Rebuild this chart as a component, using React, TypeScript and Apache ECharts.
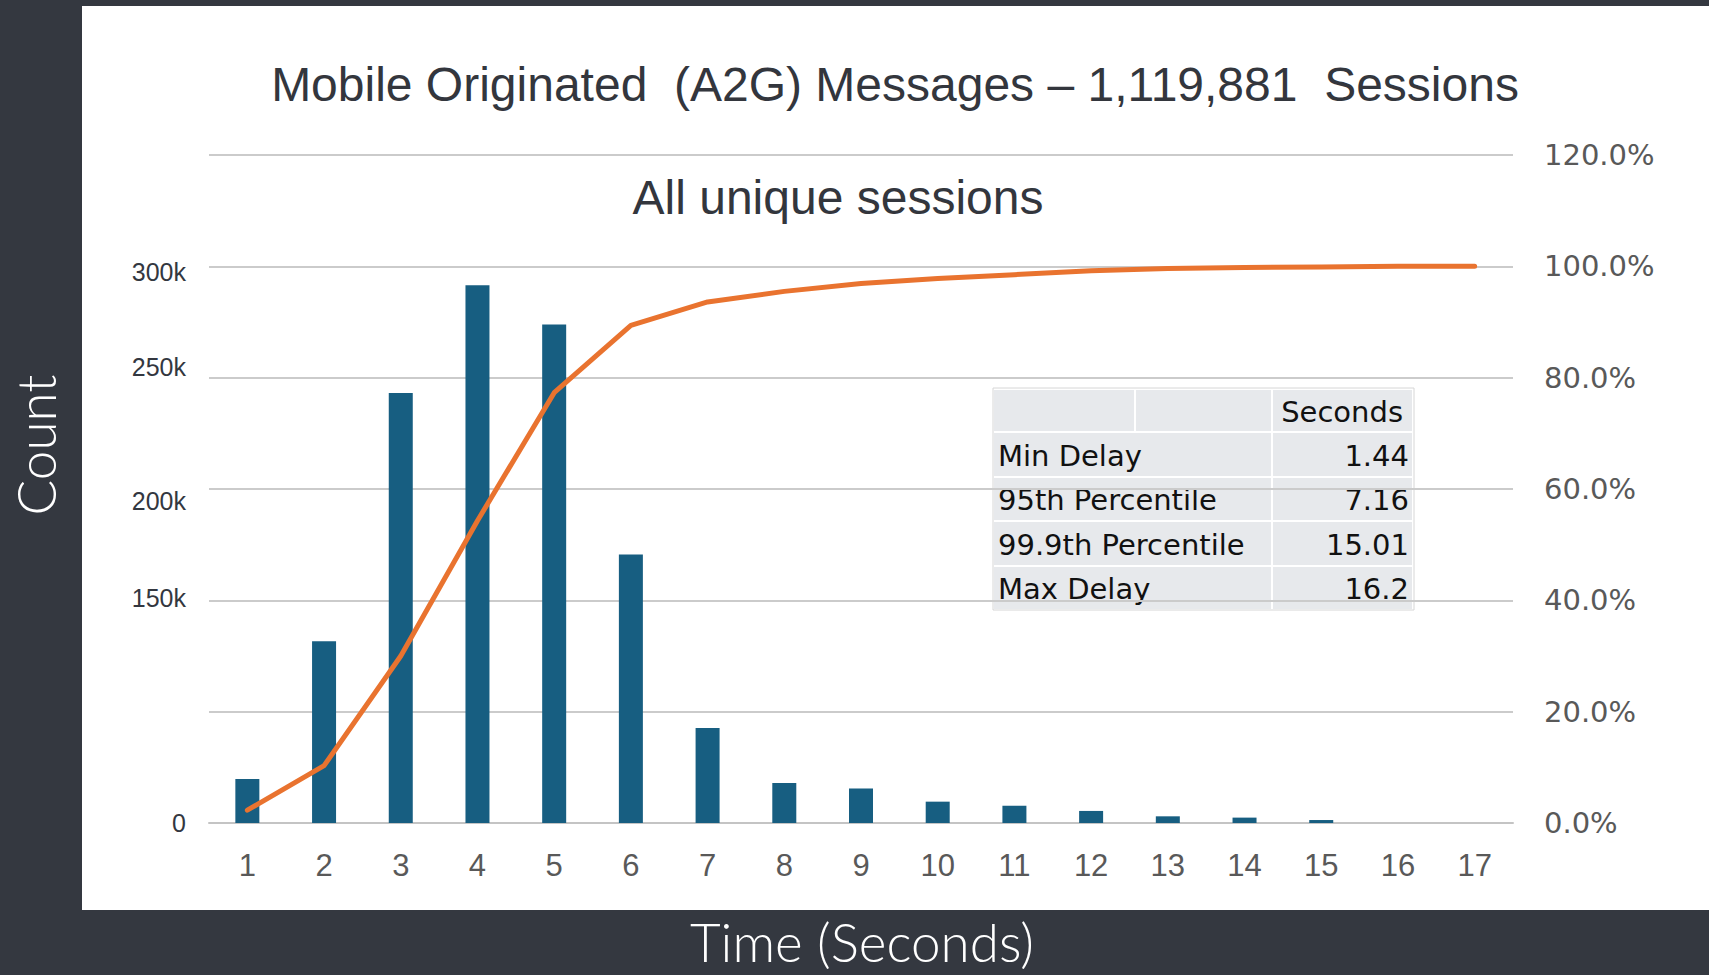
import React, { useEffect, useRef } from "react";
import * as echarts from "echarts";

const categories = ["1", "2", "3", "4", "5", "6", "7", "8", "9", "10", "11", "12", "13", "14", "15", "16", "17"];
const counts = [23700, 98000, 231800, 289800, 268600, 144700, 51200, 21600, 18600, 11500, 9300, 6500, 3600, 2900, 1600, 0, 0];
const cumulativePct = [2.3, 10.3, 30.0, 54.3, 77.3, 89.4, 93.6, 95.5, 96.9, 97.8, 98.5, 99.2, 99.6, 99.8, 99.9, 100, 100];
const leftTickLabels = ["0", "", "150k", "200k", "250k", "300k", ""];
const tableHeader = "Seconds";
const tableLabels = ["Min Delay", "95th Percentile", "99.9th Percentile", "Max Delay"];
const tableValues = ["1.44", "7.16", "15.01", "16.2"];
const mainTitle = "Mobile Originated  (A2G) Messages \u2013 1,119,881  Sessions";
const subTitle = "All unique sessions";
const yTitle = "Count";
const xTitle = "Time (Seconds)";

export default function App() {
  const ref = useRef<HTMLDivElement>(null);
  useEffect(() => {
    if (!ref.current) return;
    const chart = echarts.init(ref.current, null, { renderer: "svg" });

    // vertical nudges of the left labels (px, + = down), as they sit in the original
    const nudge = [0, 0, -2, 12, -11, 6, 0];
    const baseLbl = { color: "#333740", fontSize: 25, fontFamily: "'Liberation Sans'" };
    const rich: any = {};
    nudge.forEach((n, i) => {
      rich["n" + i] = { ...baseLbl, padding: n >= 0 ? [2 * n, 0, 0, 0] : [0, 0, -2 * n, 0] };
    });

    const cellFill = "#e7e9ec";
    const tFont = "29px 'DejaVu Sans'";
    const tx = 994, tw = 419;
    const rowTops = [390, 433, 478, 522, 567];
    const rowH = [41, 43, 42, 43, 42];
    const tableGraphics: any[] = [];
    tableGraphics.push({ type: "rect", shape: { x: tx - 1, y: 388, width: tw + 2, height: 222 }, style: { fill: "#ffffff", stroke: "#d6d6d6", lineWidth: 1 } });
    tableGraphics.push({ type: "rect", shape: { x: tx, y: rowTops[0], width: 140, height: rowH[0] }, style: { fill: cellFill } });
    tableGraphics.push({ type: "rect", shape: { x: 1136, y: rowTops[0], width: 135, height: rowH[0] }, style: { fill: cellFill } });
    tableGraphics.push({ type: "rect", shape: { x: 1273, y: rowTops[0], width: 139, height: rowH[0] }, style: { fill: cellFill } });
    tableGraphics.push({ type: "text", x: 1403, y: rowTops[0] + rowH[0] / 2 + 1, style: { text: tableHeader, fill: "#111111", font: tFont, textAlign: "right", textVerticalAlign: "middle" } });
    tableLabels.forEach((lab, i) => {
      const top = rowTops[i + 1], h = rowH[i + 1];
      tableGraphics.push({ type: "rect", shape: { x: tx, y: top, width: 277, height: h }, style: { fill: cellFill } });
      tableGraphics.push({ type: "rect", shape: { x: 1273, y: top, width: 139, height: h }, style: { fill: cellFill } });
      tableGraphics.push({ type: "text", x: 998, y: top + h / 2 + 1, style: { text: lab, fill: "#111111", font: tFont, textAlign: "left", textVerticalAlign: "middle" } });
      tableGraphics.push({ type: "text", x: 1409, y: top + h / 2 + 1, style: { text: tableValues[i], fill: "#111111", font: tFont, textAlign: "right", textVerticalAlign: "middle" } });
    });

    const option: any = {
      animation: false,
      backgroundColor: "transparent",
      grid: { left: 209, right: 196, top: 155, bottom: 152, containLabel: false },
      xAxis: {
        type: "category",
        data: categories,
        boundaryGap: true,
        axisLine: { show: true, lineStyle: { color: "#c4c4c4", width: 2 } },
        axisTick: { show: false },
        axisLabel: { color: "#595959", fontSize: 31, fontFamily: "'Liberation Sans Narrow', 'Liberation Sans'", margin: 27 },
      },
      yAxis: [
        {
          type: "value",
          min: 0,
          max: 360000,
          interval: 60000,
          axisLine: { show: false },
          axisTick: { show: false },
          splitLine: { show: false },
          axisLabel: {
            ...baseLbl,
            margin: 23,
            formatter: (v: number) => {
              const i = Math.round(v / 60000);
              const t = leftTickLabels[i] ?? "";
              return t ? `{n${i}|${t}}` : "";
            },
            rich,
          },
        },
        {
          type: "value",
          min: 0,
          max: 120,
          interval: 20,
          axisLine: { show: false },
          axisTick: { show: false },
          splitLine: { show: true, lineStyle: { color: "#cbcbcb", width: 2 } },
          axisLabel: {
            color: "#595959",
            fontSize: 29,
            fontFamily: "'DejaVu Sans'",
            margin: 31,
            formatter: (v: number) => v.toFixed(1) + "%",
          },
        },
      ],
      series: [
        {
          type: "bar",
          data: counts,
          yAxisIndex: 0,
          barWidth: 24,
          itemStyle: { color: "#175e81" },
          z: 2,
        },
        {
          type: "line",
          data: cumulativePct,
          yAxisIndex: 1,
          symbol: "none",
          lineStyle: { color: "#e9732f", width: 5, cap: "round", join: "round" },
          z: 3,
        },
      ],
      graphic: [
        { type: "text", x: 895, y: 84, style: { text: mainTitle, fill: "#33363d", font: "48px 'Liberation Sans'", textAlign: "center", textVerticalAlign: "middle" } },
        { type: "text", x: 838, y: 197, style: { text: subTitle, fill: "#33363d", font: "48px 'Liberation Sans'", textAlign: "center", textVerticalAlign: "middle" } },
        { type: "text", x: 35, y: 445, rotation: Math.PI / 2, style: { text: yTitle, fill: "#ffffff", font: "300 53px Lato", textAlign: "center", textVerticalAlign: "middle" } },
        { type: "text", x: 862, y: 941, style: { text: xTitle, fill: "#ffffff", font: "300 53px Lato", textAlign: "center", textVerticalAlign: "middle" } },
        { type: "group", z: 10, children: tableGraphics },
      ],
    };
    chart.setOption(option);
    return () => chart.dispose();
  }, []);

  return (
    <div style={{ position: "fixed", left: 0, top: 0, width: 1709, height: 975, background: "#343840", overflow: "hidden" }}>
      <div style={{ position: "absolute", left: 82, top: 6, width: 1627, height: 904, background: "#ffffff" }} />
      <div ref={ref} style={{ position: "absolute", left: 0, top: 0, width: 1709, height: 975 }} />
    </div>
  );
}
